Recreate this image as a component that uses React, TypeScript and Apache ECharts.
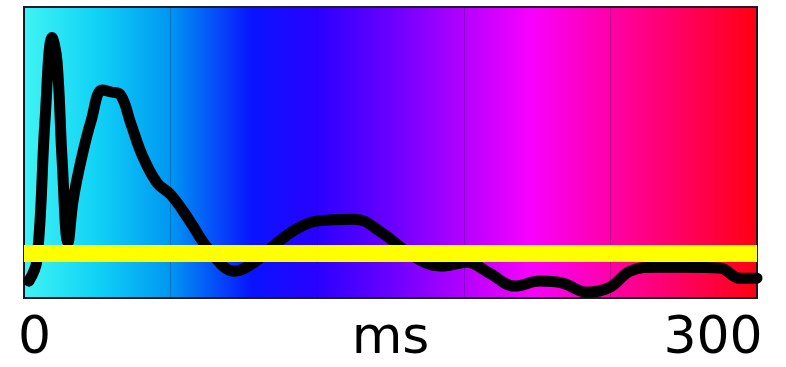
import React, { useEffect, useRef } from "react";
import * as echarts from "echarts";

// ---- data ----
const timeMs = [
  2.0, 5.3, 8.6, 11.5, 13.5, 15.6, 18.0, 20.1, 23.4, 27.5, 32.0, 35.7, 39.3, 43.9,
  48.4, 54.5, 60.2, 67.6, 75.8, 86.1, 94.3, 102.5, 110.7, 119.7, 135.2, 146.7,
  155.7, 166.0, 172.1, 181.1, 190.6, 200.8, 211.1, 220.5, 230.3, 239.8, 248.0,
  258.2, 271.3, 284.8, 293.0, 300.0,
];
const amplitude = [
  5.8, 13.0, 61.0, 89.5, 81.5, 47.5, 19.0, 33.5, 47.5, 61.0, 71.5, 70.8, 70.0, 59.5,
  49.0, 39.5, 35.4, 26.8, 16.5, 9.2, 12.3, 18.2, 23.3, 26.4, 27.1, 22.3,
  16.5, 11.6, 11.0, 12.3, 8.5, 4.1, 5.8, 5.1, 2.0, 3.7, 9.2,
  10.6, 10.6, 10.3, 6.8, 6.8,
];
const thresholdLevel = 15.3;
const xMin = 0;
const xMax = 300;
const xInterval = 60;
const xTickLabels = ["0", "300"];
const xAxisName = "ms";

export default function App() {
  const ref = useRef<HTMLDivElement>(null);

  useEffect(() => {
    if (!ref.current) return;
    const chart = echarts.init(ref.current, undefined, { renderer: "svg" });
    const lineData = timeMs.map((t, i) => [t, amplitude[i]]);
    const thresholdData = [
      [xMin, thresholdLevel],
      [xMax, thresholdLevel],
    ];
    const font = "DejaVu Sans";
    const fs = 52;
    chart.setOption({
      animation: false,
      backgroundColor: "#ffffff",
      grid: {
        left: 24,
        right: 29,
        top: 7,
        bottom: 69,
        containLabel: false,
        outerBoundsMode: "none",
        show: true,
        borderColor: "#1c1c2c",
        borderWidth: 2,
        backgroundColor: {
          type: "linear",
          x: 0,
          y: 0,
          x2: 1,
          y2: 0,
          colorStops: [
            { offset: 0, color: "#40f4f4" },
            { offset: 0.1, color: "#10d2f6" },
            { offset: 0.2, color: "#0096f2" },
            { offset: 0.31, color: "#0814ff" },
            { offset: 0.4, color: "#2a00ff" },
            { offset: 0.51, color: "#7000ff" },
            { offset: 0.6, color: "#b400ff" },
            { offset: 0.69, color: "#f800ff" },
            { offset: 0.8, color: "#ff00a8" },
            { offset: 0.92, color: "#ff0050" },
            { offset: 1, color: "#ff0010" },
          ],
        },
      },
      xAxis: {
        type: "value",
        min: xMin,
        max: xMax,
        interval: xInterval,
        name: xAxisName,
        nameLocation: "middle",
        nameGap: 14,
        nameMoveOverlap: false,
        nameTextStyle: { fontSize: fs, lineHeight: 46, fontFamily: font, color: "#000" },
        axisLine: { show: false },
        axisTick: { show: false },
        splitLine: { show: true, lineStyle: { color: "rgba(0,0,30,0.22)", width: 1 } },
        axisLabel: {
          margin: 14,
          showMinLabel: true,
          showMaxLabel: true,
          hideOverlap: false,
          formatter: (v: number) =>
            v === xMin ? `{l|${xTickLabels[0]}}` : v === xMax ? `{r|${xTickLabels[1]}}` : "",
          rich: {
            l: { fontSize: fs, lineHeight: 46, fontFamily: font, color: "#000", padding: [0, 0, 0, 21] },
            r: { fontSize: fs, lineHeight: 46, fontFamily: font, color: "#000", padding: [0, 88, 0, 0] },
          },
        },
      },
      yAxis: {
        type: "value",
        min: 0,
        max: 100,
        show: false,
        splitLine: { show: false },
      },
      series: [
        {
          type: "line",
          data: lineData,
          showSymbol: false,
          smooth: 0.4,
          lineStyle: { color: "#000000", width: 11, cap: "round", join: "round" },
          z: 2,
        },
        {
          type: "line",
          data: thresholdData,
          showSymbol: false,
          lineStyle: { color: "#ffff00", width: 17, cap: "butt" },
          z: 3,
        },
      ],
    });
    return () => chart.dispose();
  }, []);

  return (
    <div
      ref={ref}
      style={{ position: "fixed", left: 0, top: 0, width: 786, height: 367, background: "#fff" }}
    />
  );
}
